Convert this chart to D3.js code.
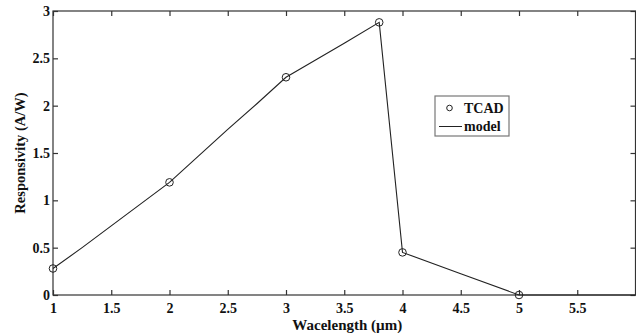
<!DOCTYPE html>
<html><head><meta charset="utf-8">
<script src="https://cdn.jsdelivr.net/npm/d3@7"></script>
<style>body{margin:0;background:#fff}svg{display:block}</style>
</head><body>
<svg id="c" width="636" height="333"></svg>
<script>
const tcadX = [1, 2, 3, 3.8, 4, 5];
const tcadY = [0.28, 1.19, 2.30, 2.88, 0.45, 0.0];
const modelX = [1, 1.25, 1.5, 1.75, 2, 2.25, 2.5, 2.75, 3, 3.25, 3.5, 3.8, 4, 4.5, 5, 5.5, 6];
const modelY = [0.28, 0.50, 0.73, 0.96, 1.19, 1.47, 1.75, 2.02, 2.30, 2.48, 2.66, 2.88, 0.45, 0.225, 0.0, 0.0, 0.0];
const xTicks = [1, 1.5, 2, 2.5, 3, 3.5, 4, 4.5, 5, 5.5, 6];
const xTickLabels = ["1", "1.5", "2", "2.5", "3", "3.5", "4", "4.5", "5", "5.5", ""];
const yTicks = [0, 0.5, 1, 1.5, 2, 2.5, 3];
const yTickLabels = ["0", "0.5", "1", "1.5", "2", "2.5", "3"];
const xLabel = "Wacelength (\u00b5m)";
const yLabel = "Responsivity (A/W)";
const legendLabels = ["TCAD", "model"];

const svg = d3.select("#c");
const L = 53, R = 635.5, T = 11, B = 295;
const x = d3.scaleLinear().domain([1, 6]).range([L, R]);
const y = d3.scaleLinear().domain([0, 3]).range([B, T]);
const font = "'Liberation Serif', 'Times New Roman', serif";
const axCol = "#333";

svg.append("rect").attr("x", L).attr("y", T).attr("width", R - L).attr("height", B - T)
  .attr("fill", "none").attr("stroke", axCol).attr("stroke-width", 1.2);

function styleAxis(g, showText) {
  g.select(".domain").remove();
  g.selectAll(".tick line").attr("stroke", axCol).attr("stroke-width", 1.2);
  g.selectAll(".tick text").attr("font-family", font).attr("font-weight", "bold")
    .attr("font-size", 14).attr("fill", "#111");
  if (!showText) g.selectAll(".tick text").remove();
}
const fmtX = (d, i) => xTickLabels[i];
const fmtY = (d, i) => yTickLabels[i];

svg.append("g").attr("transform", `translate(0,${B})`)
  .call(d3.axisBottom(x).tickValues(xTicks).tickSize(-5).tickPadding(8).tickFormat(fmtX))
  .call(g => styleAxis(g, true));
svg.append("g").attr("transform", `translate(0,${T})`)
  .call(d3.axisTop(x).tickValues(xTicks).tickSize(-5).tickFormat(""))
  .call(g => styleAxis(g, false));
svg.append("g").attr("transform", `translate(${L},0)`)
  .call(d3.axisLeft(y).tickValues(yTicks).tickSize(-5).tickPadding(3).tickFormat(fmtY))
  .call(g => styleAxis(g, true));
svg.append("g").attr("transform", `translate(${R},0)`)
  .call(d3.axisRight(y).tickValues(yTicks).tickSize(-5).tickFormat(""))
  .call(g => styleAxis(g, false));

const model = modelX.map((v, i) => [v, modelY[i]]);
svg.append("path").datum(model)
  .attr("d", d3.line().x(d => x(d[0])).y(d => y(d[1])))
  .attr("fill", "none").attr("stroke", "#222").attr("stroke-width", 1.1);

svg.selectAll("circle.t").data(tcadX.map((v, i) => [v, tcadY[i]])).join("circle")
  .attr("class", "t").attr("cx", d => x(d[0])).attr("cy", d => y(d[1])).attr("r", 3.8)
  .attr("fill", "none").attr("stroke", "#222").attr("stroke-width", 1);

svg.append("text").attr("x", (L + R) / 2 + 3).attr("y", 330).attr("text-anchor", "middle")
  .attr("font-family", font).attr("font-weight", "bold").attr("font-size", 15).attr("fill", "#111")
  .text(xLabel);
svg.append("text").attr("transform", `translate(25,${(T + B) / 2}) rotate(-90)`)
  .attr("text-anchor", "middle").attr("font-family", font).attr("font-weight", "bold")
  .attr("font-size", 14.5).attr("fill", "#111").text(yLabel);

const lg = svg.append("g");
lg.append("rect").attr("x", 435).attr("y", 96).attr("width", 74).attr("height", 40)
  .attr("fill", "#fff").attr("stroke", "#777").attr("stroke-width", 1.2);
lg.append("circle").attr("cx", 449.5).attr("cy", 108).attr("r", 2.8)
  .attr("fill", "none").attr("stroke", "#222");
lg.append("line").attr("x1", 439).attr("x2", 462).attr("y1", 126.5).attr("y2", 126.5)
  .attr("stroke", "#222").attr("stroke-width", 1);
lg.selectAll("text").data(legendLabels).join("text")
  .attr("x", 464).attr("y", (d, i) => 113 + i * 18)
  .attr("font-family", font).attr("font-weight", "bold").attr("font-size", 14).attr("fill", "#111")
  .text(d => d);
</script>
</body></html>
